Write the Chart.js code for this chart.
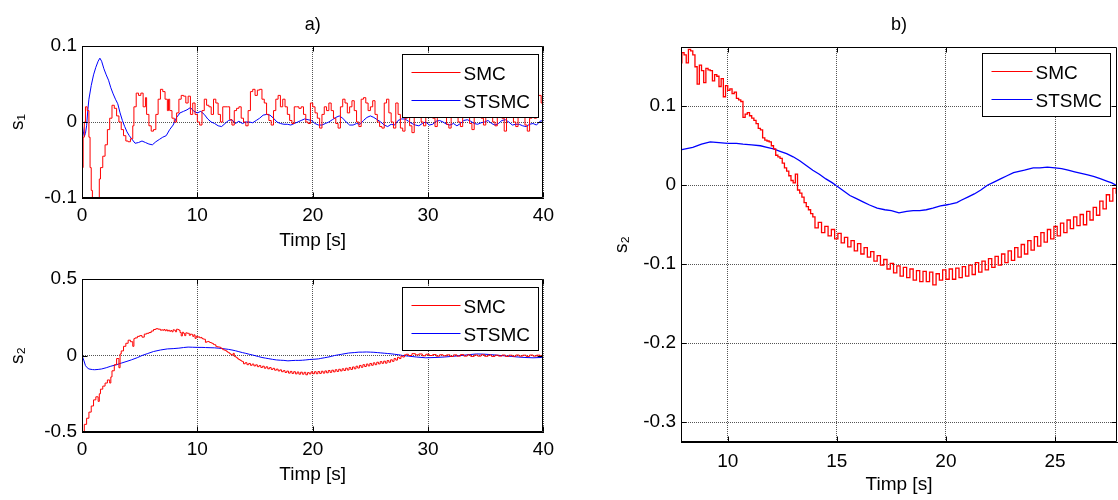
<!DOCTYPE html>
<html>
<head>
<meta charset="utf-8">
<script src="https://cdn.jsdelivr.net/npm/chart.js@4.4.1/dist/chart.umd.min.js"></script>
<style>
  html, body { margin: 0; padding: 0; background: #fff; }
  #wrap { position: relative; width: 1118px; height: 500px; overflow: hidden; }
  canvas { position: absolute; }
</style>
</head>
<body>
<div id="wrap">
  <canvas id="s1Chart" width="560" height="256" style="left:0;top:0"></canvas>
  <canvas id="s2Chart" width="560" height="244" style="left:0;top:256px"></canvas>
  <canvas id="zoomChart" width="558" height="500" style="left:560px;top:0"></canvas>
</div>
<script>
const seriesNames = ['SMC', 'STSMC'];
const seriesColors = ['#ff0000', '#0000ff'];
const timeTicks = [0, 10, 20, 30, 40];
const zoomTimeTicks = [10, 15, 20, 25];
const s1Ticks = [-0.1, 0, 0.1];
const s2Ticks = [-0.5, 0, 0.5];
const zoomS2Ticks = [-0.3, -0.2, -0.1, 0, 0.1];

// [time, value] samples
const s1Smc = [
  [0,-0.1],[0.1,-0.06],[0.2,-0.02],[0.3,0],[0.45,0.02],[0.6,0.015],[0.7,-0.02],[0.8,-0.06],[0.9,-0.09],[1.0,-0.105],
  [1.5,-0.105],[1.6,-0.075],[1.8,-0.06],[2.0,-0.045],[2.2,-0.03],[2.4,-0.01],[2.6,0.005],[2.8,0.022],[3.0,0.018],[3.2,0.008],
  [3.4,0],[3.6,-0.01],[3.8,-0.018],[4.0,-0.025],[4.2,-0.026],[4.4,-0.022],[4.5,-0.005],[4.7,0.02],[4.9,0.038],[5.1,0.035],
  [5.3,0.038],[5.5,0.02],[5.6,0.032],[5.8,0.01],[6.0,-0.005],[6.2,-0.012],[6.4,-0.01],[6.6,0.01],[6.8,0.03],[7.0,0.043],
  [7.2,0.04],[7.4,0.03],[7.5,0.015],[7.6,0.03],[7.8,0.015],[8.0,0.005],[8.2,0],[8.4,0.012],[8.6,0.03],[8.8,0.035],
  [9.0,0.034],[9.2,0.025],[9.4,0.034],[9.6,0.01],[9.8,0.025],[10.0,0.01],[10.2,0],[10.4,-0.004],[10.6,0.015],[10.8,0.03],
  [11.0,0.022],[11.2,0.02],[11.4,0.01],[11.6,0.03],[11.8,0.025],[12.0,0.01],[12.2,0],[12.4,0.02],[12.6,0.02],[12.8,0.02],
  [13.0,0.003],[13.2,-0.004],[13.4,0.015],[13.6,0.018],[13.8,0.02],[14.0,0.005],[14.2,0],[14.4,-0.005],[14.6,0.015],[14.8,0.04],
  [15.0,0.043],[15.2,0.035],[15.4,0.042],[15.6,0.043],[15.8,0.03],[16.0,0.025],[16.2,0.01],[16.4,0.002],[16.6,-0.004],[16.8,0.015],
  [17.0,0.03],[17.2,0.035],[17.4,0.02],[17.6,0.03],[17.8,0.02],[18.0,0.01],[18.2,0.002],[18.4,-0.002],[18.6,0.02],[18.8,0.02],
  [19.0,0.018],[19.2,0.02],[19.4,0.01],[19.6,0],[19.8,-0.002],[20.0,0.025],[20.2,0.02],[20.4,0.012],[20.6,0.005],[20.8,-0.008],
  [21.0,0.01],[21.2,0.02],[21.4,0.015],[21.6,0.025],[21.8,0.015],[22.0,0.005],[22.2,-0.002],[22.4,-0.008],[22.6,0.02],[22.8,0.03],
  [23.0,0.025],[23.2,0.012],[23.4,0.02],[23.6,0.028],[23.8,0.015],[24.0,0],[24.2,-0.006],[24.4,0.03],[24.6,0.032],[24.8,0.025],
  [25.0,0.015],[25.2,0.02],[25.4,0.028],[25.6,0.01],[25.8,0],[26.0,-0.006],[26.2,-0.008],[26.4,0.025],[26.6,0.03],[26.8,0.012],
  [27.0,0],[27.2,-0.008],[27.4,0.025],[27.6,0.01],[27.8,-0.008],[28.0,-0.012],[28.2,0.005],[28.4,0.02],[28.6,-0.005],[28.8,-0.014],
  [29.0,0.02],[29.2,0.025],[29.4,0.01],[29.6,0],[29.8,-0.005],[30.0,0.015],[30.2,0.025],[30.4,0.02],[30.6,0.005],[30.8,-0.006],
  [31.0,0.01],[31.2,0.028],[31.4,0.02],[31.6,0.01],[31.8,-0.003],[32.0,-0.008],[32.2,0.015],[32.4,0.025],[32.6,0.012],[32.8,0],
  [33.0,-0.006],[33.2,0.02],[33.4,0.025],[33.6,0.01],[33.8,-0.002],[34.0,-0.01],[34.2,0.015],[34.4,0.025],[34.6,0.02],[34.8,0.005],
  [35.0,-0.004],[35.2,0.018],[35.4,0.025],[35.6,0.01],[35.8,0],[36.0,-0.005],[36.2,0.02],[36.4,0.02],[36.6,0.005],[36.8,-0.012],
  [37.0,0.01],[37.2,0.025],[37.4,0.015],[37.6,0],[37.8,-0.006],[38.0,0.015],[38.2,0.022],[38.4,0.01],[38.6,-0.004],[38.8,-0.012],
  [39.0,0.005],[39.2,0.02],[39.4,0.005],[39.6,0.034],[39.8,0.035],[40.0,0.025]
];
const s1Stsmc = [
  [0,0],[0.1,-0.012],[0.2,-0.019],[0.3,-0.015],[0.4,-0.005],[0.5,0.015],[0.6,0.03],[0.8,0.048],[1.0,0.062],[1.2,0.072],
  [1.4,0.08],[1.55,0.084],[1.7,0.08],[1.9,0.07],[2.1,0.062],[2.3,0.055],[2.5,0.045],[2.7,0.037],[2.9,0.03],[3.1,0.024],
  [3.3,0.012],[3.5,0.002],[3.7,-0.006],[3.9,-0.013],[4.1,-0.018],[4.3,-0.022],[4.6,-0.028],[4.9,-0.027],[5.2,-0.025],[5.5,-0.027],
  [5.8,-0.029],[6.1,-0.03],[6.4,-0.026],[6.7,-0.023],[7.0,-0.02],[7.3,-0.018],[7.6,-0.01],[7.9,-0.004],[8.2,0.006],[8.5,0.012],
  [8.8,0.014],[9.1,0.016],[9.4,0.019],[9.7,0.014],[10.0,0.012],[10.3,0.014],[10.6,0.01],[10.9,0.004],[11.2,0],[11.5,-0.002],
  [11.8,-0.005],[12.1,-0.006],[12.4,-0.002],[12.7,0.002],[13.0,0.003],[13.3,-0.002],[13.6,0.001],[13.9,-0.002],[14.2,0],[14.5,0],
  [14.8,-0.001],[15.1,0.002],[15.4,0.005],[15.7,0.009],[16.0,0.01],[16.3,0.009],[16.6,0.005],[16.9,0],[17.2,-0.002],[17.5,-0.003],
  [17.8,-0.003],[18.1,-0.004],[18.4,-0.002],[18.7,0],[19.0,0.002],[19.3,0.004],[19.6,0.003],[19.9,0.002],[20.2,-0.002],[20.5,-0.004],
  [20.8,-0.004],[21.1,-0.002],[21.4,0],[21.7,0.003],[22.0,0.006],[22.3,0.008],[22.6,0.005],[22.9,0],[23.2,-0.004],[23.5,-0.004],
  [23.8,-0.002],[24.1,-0.003],[24.4,0.002],[24.7,0.006],[25.0,0.008],[25.3,0.006],[25.6,0.003],[25.9,0],[26.2,-0.004],[26.5,-0.006],
  [26.8,-0.003],[27.1,-0.004],[27.4,0.002],[27.7,0.004],[28.0,0.004],[28.3,0.001],[28.6,-0.002],[28.9,-0.004],[29.2,-0.005],[29.5,-0.002],
  [29.8,0],[30.1,-0.004],[30.4,-0.003],[30.7,0.001],[31.0,0.002],[31.3,0],[31.6,-0.003],[31.9,-0.004],[32.2,-0.002],[32.5,-0.005],
  [32.8,-0.002],[33.1,0.002],[33.4,0.003],[33.7,0.001],[34.0,-0.002],[34.3,-0.003],[34.6,-0.001],[34.9,0],[35.2,0.002],[35.5,-0.002],
  [35.8,-0.004],[36.1,-0.002],[36.4,0.002],[36.7,0.003],[37.0,0],[37.3,-0.004],[37.6,-0.003],[37.9,-0.003],[38.2,-0.005],[38.5,-0.006],
  [38.8,-0.003],[39.1,-0.002],[39.4,-0.004],[39.7,0.001],[40.0,0.002]
];
const s2Smc = [
  [0,-0.56],[0.2,-0.5],[0.4,-0.45],[0.6,-0.41],[0.8,-0.37],[1.0,-0.33],[1.2,-0.29],[1.4,-0.27],[1.5,-0.3],[1.6,-0.25],
  [1.8,-0.22],[2.0,-0.2],[2.2,-0.18],[2.4,-0.16],[2.5,-0.18],[2.6,-0.14],[2.8,-0.1],[3.0,-0.06],[3.2,-0.02],[3.3,-0.08],
  [3.4,0.01],[3.6,0.03],[3.8,0.06],[4.0,0.08],[4.2,0.1],[4.4,0.09],[4.5,0.06],[4.6,0.11],[4.8,0.115],[5.0,0.125],
  [5.2,0.13],[5.4,0.12],[5.6,0.14],[5.8,0.145],[6.0,0.15],[6.2,0.16],[6.4,0.17],[6.6,0.175],[6.8,0.172],[6.9,0.165],
  [7.0,0.168],[7.1,0.165],[7.2,0.17],[7.3,0.162],[7.4,0.168],[7.5,0.16],[7.6,0.165],[7.7,0.158],[7.8,0.163],[7.9,0.155],
  [8.0,0.168],[8.1,0.165],[8.2,0.155],[8.3,0.172],[8.4,0.17],[8.5,0.165],[8.6,0.15],[8.7,0.128],[8.8,0.152],[8.9,0.145],
  [9.0,0.13],[9.1,0.148],[9.2,0.146],[9.3,0.145],[9.4,0.132],[9.5,0.14],[9.6,0.138],[9.7,0.125],[9.8,0.135],[9.9,0.112],
  [10.0,0.126],[10.1,0.12],[10.2,0.122],[10.3,0.116],[10.4,0.118],[10.5,0.11],[10.6,0.108],[10.7,0.106],[10.8,0.086],[10.9,0.09],
  [11.0,0.092],[11.1,0.088],[11.2,0.085],[11.3,0.082],[11.4,0.078],[11.5,0.072],[11.6,0.07],[11.7,0.06],[11.8,0.057],[11.9,0.056],
  [12.0,0.055],[12.1,0.05],[12.2,0.046],[12.3,0.038],[12.4,0.036],[12.5,0.034],[12.6,0.028],[12.7,0.022],[12.8,0.018],[12.9,0.012],
  [13.0,0.006],[13.1,0.003],[13.2,0.014],[13.3,-0.006],[13.4,-0.01],[13.5,-0.015],[13.6,-0.022],[13.7,-0.027],[13.8,-0.031],[13.9,-0.036],
  [14.0,-0.04],[14.15,-0.054],[14.3,-0.047],[14.45,-0.06],[14.6,-0.052],[14.75,-0.064],[14.9,-0.056],[15.05,-0.068],[15.2,-0.061],[15.35,-0.073],
  [15.5,-0.066],[15.65,-0.078],[15.8,-0.07],[15.95,-0.083],[16.1,-0.074],[16.25,-0.087],[16.4,-0.079],[16.55,-0.091],[16.7,-0.084],[16.85,-0.096],
  [17.0,-0.089],[17.15,-0.101],[17.3,-0.094],[17.45,-0.106],[17.6,-0.099],[17.75,-0.111],[17.9,-0.102],[18.05,-0.115],[18.2,-0.104],[18.35,-0.117],
  [18.5,-0.106],[18.65,-0.12],[18.8,-0.108],[18.95,-0.122],[19.1,-0.109],[19.25,-0.122],[19.4,-0.11],[19.55,-0.126],[19.7,-0.112],[19.85,-0.12],
  [20.0,-0.107],[20.15,-0.119],[20.3,-0.106],[20.45,-0.119],[20.6,-0.105],[20.75,-0.117],[20.9,-0.103],[21.05,-0.115],[21.2,-0.101],[21.35,-0.113],
  [21.5,-0.098],[21.65,-0.11],[21.8,-0.096],[21.95,-0.107],[22.1,-0.093],[22.25,-0.104],[22.4,-0.09],[22.55,-0.101],[22.7,-0.087],[22.85,-0.098],
  [23.0,-0.083],[23.15,-0.095],[23.3,-0.079],[23.45,-0.091],[23.6,-0.075],[23.75,-0.087],[23.9,-0.07],[24.05,-0.082],[24.2,-0.065],[24.35,-0.077],
  [24.5,-0.06],[24.65,-0.072],[24.8,-0.056],[24.95,-0.068],[25.1,-0.052],[25.25,-0.064],[25.4,-0.048],[25.55,-0.06],[25.7,-0.044],[25.85,-0.055],
  [26.0,-0.04],[26.15,-0.051],[26.3,-0.037],[26.45,-0.05],[26.6,-0.033],[26.75,-0.044],[26.9,-0.028],[27.05,-0.038],[27.2,-0.02],[27.35,-0.03],
  [27.5,-0.012],[27.65,-0.02],[27.8,-0.004],[27.95,-0.01],[28.1,0.004],[28.3,0.008],[28.6,0],[28.9,0.012],[29.2,0.004],[29.5,0.01],
  [29.8,-0.002],[30.1,0.008],[30.4,0],[30.7,0.006],[31.0,-0.004],[31.3,0.005],[31.6,-0.002],[31.9,0.004],[32.2,-0.006],[32.5,0.004],
  [32.8,-0.004],[33.1,0.006],[33.4,-0.004],[33.7,0.004],[34.0,-0.006],[34.3,0.003],[34.6,-0.004],[34.9,0.005],[35.2,-0.005],[35.5,0.003],
  [35.8,-0.006],[36.1,0.002],[36.4,-0.004],[36.7,0.003],[37.0,-0.006],[37.3,0.002],[37.6,-0.005],[37.9,0.003],[38.2,-0.004],[38.5,0.002],
  [38.8,-0.006],[39.1,0.003],[39.4,-0.004],[39.7,0.002],[40.0,-0.003]
];
const s2Stsmc = [
  [0,0],[0.15,-0.03],[0.3,-0.066],[0.45,-0.08],[0.6,-0.088],[0.9,-0.092],[1.1,-0.093],[1.4,-0.091],[1.7,-0.088],[2.1,-0.08],
  [2.5,-0.07],[3.0,-0.06],[3.4,-0.05],[3.9,-0.038],[4.3,-0.028],[4.8,-0.014],[5.2,0],[5.7,0.013],[6.2,0.026],[6.8,0.036],
  [7.4,0.043],[7.9,0.045],[8.4,0.048],[8.8,0.052],[9.2,0.055],[9.6,0.054],[10.0,0.053],[10.4,0.053],[10.7,0.052],[11.1,0.051],
  [11.5,0.05],[11.8,0.048],[12.1,0.046],[12.4,0.043],[12.7,0.04],[13.0,0.036],[13.3,0.031],[13.6,0.025],[13.9,0.019],[14.2,0.014],
  [14.5,0.008],[14.8,0.003],[15.0,-0.001],[15.3,-0.007],[15.6,-0.013],[15.9,-0.017],[16.2,-0.021],[16.5,-0.025],[16.85,-0.029],[17.2,-0.031],
  [17.5,-0.032],[17.85,-0.035],[18.2,-0.033],[18.5,-0.032],[18.8,-0.032],[19.1,-0.031],[19.4,-0.029],[19.75,-0.026],[20.0,-0.025],[20.2,-0.024],
  [20.5,-0.022],[20.7,-0.019],[21.0,-0.015],[21.3,-0.011],[21.6,-0.006],[21.9,0],[22.2,0.004],[22.5,0.008],[22.8,0.012],[23.1,0.016],
  [23.4,0.018],[23.6,0.019],[24.0,0.022],[24.3,0.022],[24.65,0.023],[25.0,0.022],[25.3,0.021],[25.6,0.019],[25.9,0.017],[26.2,0.015],
  [26.5,0.013],[26.8,0.011],[27.1,0.008],[27.4,0.005],[27.6,0.003],[27.8,0],[28.3,-0.004],[29.0,-0.01],[29.8,-0.015],[30.6,-0.013],
  [31.4,-0.01],[32.2,-0.005],[32.9,0],[33.6,0.006],[34.2,0.01],[34.8,0.009],[35.4,0.006],[36.0,0.002],[36.6,-0.002],[37.2,-0.006],
  [37.8,-0.01],[38.4,-0.013],[39.1,-0.015],[39.8,-0.013],[40.0,-0.012]
];

const FONT = "'Liberation Sans', Arial, sans-serif";
Chart.defaults.font.family = FONT;
Chart.defaults.color = '#000';

// MATLAB-like axes box, inner ticks and boxed legend
const matlabFrame = {
  id: 'matlabFrame',
  afterDatasetsDraw(chart, args, opts) {
    const { ctx, chartArea: a, scales } = chart;
    const L = Math.round(a.left) + 0.5, T = Math.round(a.top) + 0.5;
    const R = Math.round(a.right) - 0.5, B = Math.round(a.bottom) - 0.5;
    ctx.save();
    ctx.strokeStyle = '#000';
    ctx.lineWidth = 1;
    ctx.beginPath();
    ctx.rect(L, T, R - L, B - T);
    scales.x.ticks.forEach(t => {
      const px = Math.round(scales.x.getPixelForValue(t.value)) + 0.5;
      ctx.moveTo(px, B); ctx.lineTo(px, B - 5);
      ctx.moveTo(px, T); ctx.lineTo(px, T + 5);
    });
    scales.y.ticks.forEach(t => {
      const py = Math.round(scales.y.getPixelForValue(t.value)) + 0.5;
      ctx.moveTo(L, py); ctx.lineTo(L + 5, py);
      ctx.moveTo(R, py); ctx.lineTo(R - 5, py);
    });
    ctx.stroke();

    const w = opts.w, h = 63;
    const x0 = Math.round(a.right - opts.dx - w) + 0.5;
    const y0 = Math.round(a.top + opts.dy) + 0.5;
    ctx.fillStyle = '#fff';
    ctx.fillRect(x0, y0, w, h);
    ctx.strokeRect(x0, y0, w, h);
    ctx.font = '19px ' + FONT;
    ctx.textBaseline = 'middle';
    ctx.textAlign = 'left';
    chart.data.datasets.forEach((ds, i) => {
      const yy = y0 + 20 + i * 28;
      ctx.strokeStyle = ds.borderColor;
      ctx.beginPath();
      ctx.moveTo(x0 + 9, yy - 2);
      ctx.lineTo(x0 + w - 78, yy - 2);
      ctx.stroke();
      ctx.fillStyle = '#000';
      ctx.fillText(ds.label, x0 + w - 75, yy);
    });
    ctx.restore();
  }
};

function toPoints(pairs) {
  return pairs.map(p => ({ x: p[0], y: p[1] }));
}

function drawPanel(id, o) {
  return new Chart(document.getElementById(id), {
    type: 'line',
    data: {
      datasets: o.series.map((s, i) => ({
        label: seriesNames[i],
        data: toPoints(s),
        borderColor: seriesColors[i],
        borderWidth: o.lineWidth,
        pointRadius: 0,
        stepped: i === 0 ? 'after' : false,
        tension: 0,
        fill: false
      }))
    },
    options: {
      responsive: false,
      animation: false,
      events: [],
      layout: { padding: { top: o.padTop, right: o.padRight, left: 0, bottom: 0 } },
      plugins: {
        legend: { display: false },
        tooltip: { enabled: false },
        title: {
          display: !!o.title,
          text: o.title,
          fullSize: false,
          color: '#000',
          font: { size: 18, weight: 'normal' },
          padding: { top: 14, bottom: o.titleGap }
        },
        matlabFrame: { dx: o.legendDx, dy: o.legendDy, w: o.legendW }
      },
      scales: {
        x: {
          type: 'linear',
          min: o.xMin,
          max: o.xMax,
          afterBuildTicks: s => { s.ticks = o.xTicks.map(v => ({ value: v })); },
          afterFit: s => { s.height = o.xHeight; },
          grid: { color: '#555', lineWidth: 1, drawTicks: false },
          border: { display: true, color: '#000', width: 1, dash: [1, 1] },
          ticks: { autoSkip: false, maxRotation: 0, padding: o.xTickPad, font: { size: 19 }, color: '#000',
                   callback: v => String(v) },
          title: { display: true, text: 'Timp [s]', font: { size: 19 }, color: '#000',
                   padding: { top: 0, bottom: o.xTitlePad } }
        },
        y: {
          type: 'linear',
          min: o.yMin,
          max: o.yMax,
          afterBuildTicks: s => { s.ticks = o.yTicks.map(v => ({ value: v })); },
          afterFit: s => { s.width = o.yWidth; },
          grid: { color: '#555', lineWidth: 1, drawTicks: false },
          border: { display: true, color: '#000', width: 1, dash: [1, 1] },
          ticks: { autoSkip: false, padding: 5, font: { size: 19 }, color: '#000',
                   callback: v => String(v) },
          title: { display: true, text: o.yTitle, font: { size: 19 }, color: '#000',
                   padding: { top: o.yTitlePad, bottom: 0 } }
        }
      }
    },
    plugins: [matlabFrame]
  });
}

drawPanel('s1Chart', {
  series: [s1Smc, s1Stsmc], lineWidth: 1,
  title: 'a)', titleGap: 10.4, padTop: 0, padRight: 14,
  xMin: 0, xMax: 40, xTicks: timeTicks, xHeight: 58, xTickPad: 6, xTitlePad: 4,
  yMin: -0.1, yMax: 0.1, yTicks: s1Ticks, yWidth: 82, yTitle: 's\u2081', yTitlePad: 6,
  legendDx: 5, legendDy: 8, legendW: 136
});

drawPanel('s2Chart', {
  series: [s2Smc, s2Stsmc], lineWidth: 1,
  title: '', titleGap: 0, padTop: 23, padRight: 14,
  xMin: 0, xMax: 40, xTicks: timeTicks, xHeight: 68, xTickPad: 6, xTitlePad: 14,
  yMin: -0.5, yMax: 0.5, yTicks: s2Ticks, yWidth: 82, yTitle: 's\u2082', yTitlePad: 6,
  legendDx: 5, legendDy: 8, legendW: 136
});

drawPanel('zoomChart', {
  series: [s2Smc, s2Stsmc], lineWidth: 1.3,
  title: 'b)', titleGap: 11.4, padTop: 0, padRight: 1,
  xMin: 7.86, xMax: 27.84, xTicks: zoomTimeTicks, xHeight: 58, xTickPad: 8, xTitlePad: 4,
  yMin: -0.325, yMax: 0.175, yTicks: zoomS2Ticks, yWidth: 121, yTitle: 's\u2082', yTitlePad: 50,
  legendDx: 7, legendDy: 6, legendW: 128
});
</script>
</body>
</html>
